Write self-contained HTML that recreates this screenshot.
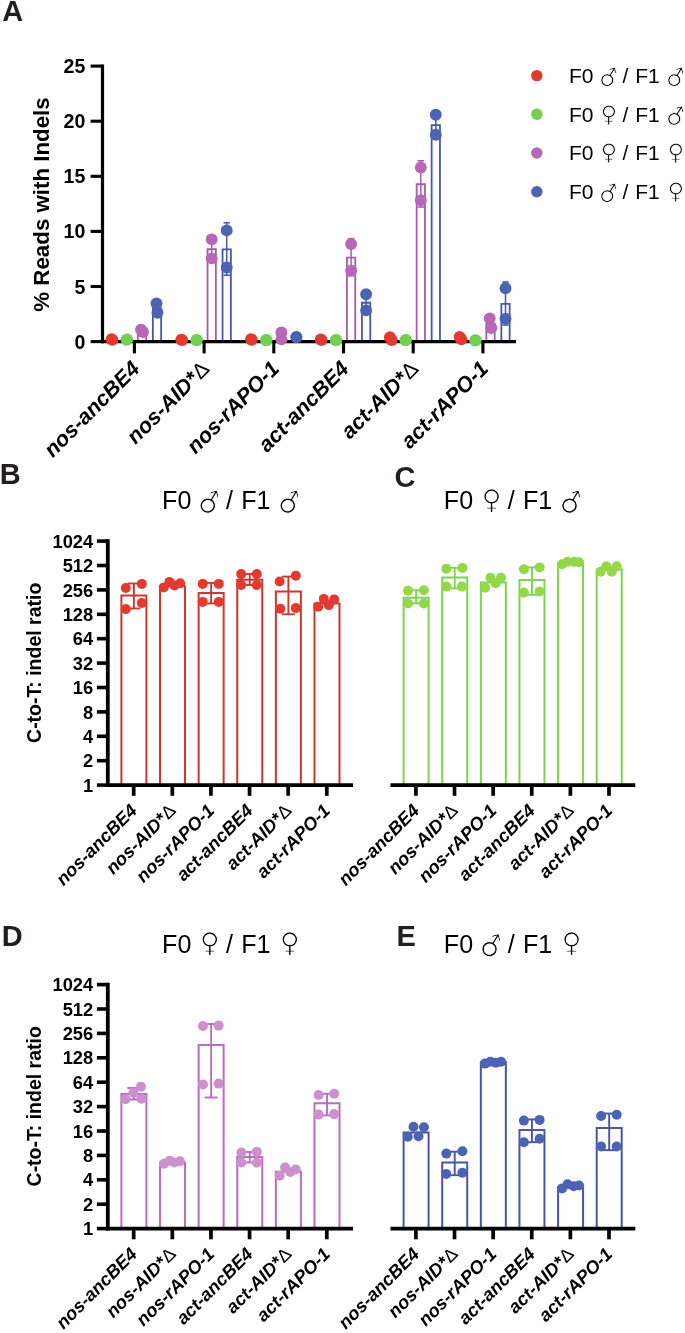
<!DOCTYPE html>
<html lang="en"><head><meta charset="utf-8"><title>Figure</title>
<style>
html,body{margin:0;padding:0;background:#fff;}
svg{display:block;font-family:"Liberation Sans", Arial, Helvetica, sans-serif;}

</style></head><body>
<svg width="685" height="1333" viewBox="0 0 685 1333">
<rect width="685" height="1333" fill="#fff"/>
<text x="2.30" y="20.80" font-size="29.0" font-weight="bold" font-style="normal" text-anchor="start" fill="#231F20">A</text>
<text x="-0.30" y="484.10" font-size="29.0" font-weight="bold" font-style="normal" text-anchor="start" fill="#231F20">B</text>
<text x="394.40" y="487.10" font-size="29.0" font-weight="bold" font-style="normal" text-anchor="start" fill="#231F20">C</text>
<text x="1.80" y="946.20" font-size="29.0" font-weight="bold" font-style="normal" text-anchor="start" fill="#231F20">D</text>
<text x="396.40" y="945.90" font-size="29.0" font-weight="bold" font-style="normal" text-anchor="start" fill="#231F20">E</text>
<path d="M137.85 341.60V331.20H146.15V341.60" fill="none" stroke="#A85AA8" stroke-width="1.8"/>
<line x1="142.00" y1="329.09" x2="142.00" y2="332.51" stroke="#A85AA8" stroke-width="1.5" stroke-linecap="butt"/>
<line x1="138.80" y1="329.09" x2="145.20" y2="329.09" stroke="#A85AA8" stroke-width="1.5" stroke-linecap="butt"/>
<line x1="138.80" y1="332.51" x2="145.20" y2="332.51" stroke="#A85AA8" stroke-width="1.5" stroke-linecap="butt"/>
<path d="M207.55 341.60V249.27H215.85V341.60" fill="none" stroke="#A85AA8" stroke-width="1.8"/>
<line x1="211.70" y1="235.39" x2="211.70" y2="262.35" stroke="#A85AA8" stroke-width="1.5" stroke-linecap="butt"/>
<line x1="208.50" y1="235.39" x2="214.90" y2="235.39" stroke="#A85AA8" stroke-width="1.5" stroke-linecap="butt"/>
<line x1="208.50" y1="262.35" x2="214.90" y2="262.35" stroke="#A85AA8" stroke-width="1.5" stroke-linecap="butt"/>
<path d="M346.95 341.60V257.64H355.25V341.60" fill="none" stroke="#A85AA8" stroke-width="1.8"/>
<line x1="351.10" y1="238.62" x2="351.10" y2="275.87" stroke="#A85AA8" stroke-width="1.5" stroke-linecap="butt"/>
<line x1="347.90" y1="238.62" x2="354.30" y2="238.62" stroke="#A85AA8" stroke-width="1.5" stroke-linecap="butt"/>
<line x1="347.90" y1="275.87" x2="354.30" y2="275.87" stroke="#A85AA8" stroke-width="1.5" stroke-linecap="butt"/>
<path d="M416.65 341.60V184.25H424.95V341.60" fill="none" stroke="#A85AA8" stroke-width="1.8"/>
<line x1="420.80" y1="160.71" x2="420.80" y2="206.99" stroke="#A85AA8" stroke-width="1.5" stroke-linecap="butt"/>
<line x1="417.60" y1="160.71" x2="424.00" y2="160.71" stroke="#A85AA8" stroke-width="1.5" stroke-linecap="butt"/>
<line x1="417.60" y1="206.99" x2="424.00" y2="206.99" stroke="#A85AA8" stroke-width="1.5" stroke-linecap="butt"/>
<path d="M486.35 341.60V323.60H494.65V341.60" fill="none" stroke="#A85AA8" stroke-width="1.8"/>
<line x1="490.50" y1="316.34" x2="490.50" y2="330.05" stroke="#A85AA8" stroke-width="1.5" stroke-linecap="butt"/>
<line x1="487.30" y1="316.34" x2="493.70" y2="316.34" stroke="#A85AA8" stroke-width="1.5" stroke-linecap="butt"/>
<line x1="487.30" y1="330.05" x2="493.70" y2="330.05" stroke="#A85AA8" stroke-width="1.5" stroke-linecap="butt"/>
<path d="M152.85 341.60V308.44H161.15V341.60" fill="none" stroke="#4358A8" stroke-width="1.8"/>
<line x1="157.00" y1="301.42" x2="157.00" y2="314.67" stroke="#4358A8" stroke-width="1.5" stroke-linecap="butt"/>
<line x1="153.80" y1="301.42" x2="160.20" y2="301.42" stroke="#4358A8" stroke-width="1.5" stroke-linecap="butt"/>
<line x1="153.80" y1="314.67" x2="160.20" y2="314.67" stroke="#4358A8" stroke-width="1.5" stroke-linecap="butt"/>
<path d="M222.55 341.60V249.38H230.85V341.60" fill="none" stroke="#4358A8" stroke-width="1.8"/>
<line x1="226.70" y1="222.72" x2="226.70" y2="275.24" stroke="#4358A8" stroke-width="1.5" stroke-linecap="butt"/>
<line x1="223.50" y1="222.72" x2="229.90" y2="222.72" stroke="#4358A8" stroke-width="1.5" stroke-linecap="butt"/>
<line x1="223.50" y1="275.24" x2="229.90" y2="275.24" stroke="#4358A8" stroke-width="1.5" stroke-linecap="butt"/>
<path d="M361.95 341.60V302.77H370.25V341.60" fill="none" stroke="#4358A8" stroke-width="1.8"/>
<line x1="366.10" y1="290.99" x2="366.10" y2="313.75" stroke="#4358A8" stroke-width="1.5" stroke-linecap="butt"/>
<line x1="362.90" y1="290.99" x2="369.30" y2="290.99" stroke="#4358A8" stroke-width="1.5" stroke-linecap="butt"/>
<line x1="362.90" y1="313.75" x2="369.30" y2="313.75" stroke="#4358A8" stroke-width="1.5" stroke-linecap="butt"/>
<path d="M431.65 341.60V125.18H439.95V341.60" fill="none" stroke="#4358A8" stroke-width="1.8"/>
<line x1="435.80" y1="110.68" x2="435.80" y2="138.89" stroke="#4358A8" stroke-width="1.5" stroke-linecap="butt"/>
<line x1="432.60" y1="110.68" x2="439.00" y2="110.68" stroke="#4358A8" stroke-width="1.5" stroke-linecap="butt"/>
<line x1="432.60" y1="138.89" x2="439.00" y2="138.89" stroke="#4358A8" stroke-width="1.5" stroke-linecap="butt"/>
<path d="M501.35 341.60V303.93H509.65V341.60" fill="none" stroke="#4358A8" stroke-width="1.8"/>
<line x1="505.50" y1="281.94" x2="505.50" y2="325.11" stroke="#4358A8" stroke-width="1.5" stroke-linecap="butt"/>
<line x1="502.30" y1="281.94" x2="508.70" y2="281.94" stroke="#4358A8" stroke-width="1.5" stroke-linecap="butt"/>
<line x1="502.30" y1="325.11" x2="508.70" y2="325.11" stroke="#4358A8" stroke-width="1.5" stroke-linecap="butt"/>
<line x1="102.50" y1="64.40" x2="102.50" y2="343.20" stroke="#000" stroke-width="3.2" stroke-linecap="butt"/>
<line x1="100.90" y1="341.60" x2="516.10" y2="341.60" stroke="#000" stroke-width="3.3" stroke-linecap="butt"/>
<line x1="90.60" y1="341.60" x2="102.50" y2="341.60" stroke="#000" stroke-width="3.1" stroke-linecap="butt"/>
<text x="85.30" y="348.60" font-size="19.5" font-weight="bold" font-style="normal" text-anchor="end">0</text>
<line x1="90.60" y1="286.50" x2="102.50" y2="286.50" stroke="#000" stroke-width="3.1" stroke-linecap="butt"/>
<text x="85.30" y="293.50" font-size="19.5" font-weight="bold" font-style="normal" text-anchor="end">5</text>
<line x1="90.60" y1="231.40" x2="102.50" y2="231.40" stroke="#000" stroke-width="3.1" stroke-linecap="butt"/>
<text x="85.30" y="238.40" font-size="19.5" font-weight="bold" font-style="normal" text-anchor="end">10</text>
<line x1="90.60" y1="176.30" x2="102.50" y2="176.30" stroke="#000" stroke-width="3.1" stroke-linecap="butt"/>
<text x="85.30" y="183.30" font-size="19.5" font-weight="bold" font-style="normal" text-anchor="end">15</text>
<line x1="90.60" y1="121.20" x2="102.50" y2="121.20" stroke="#000" stroke-width="3.1" stroke-linecap="butt"/>
<text x="85.30" y="128.20" font-size="19.5" font-weight="bold" font-style="normal" text-anchor="end">20</text>
<line x1="90.60" y1="66.10" x2="102.50" y2="66.10" stroke="#000" stroke-width="3.1" stroke-linecap="butt"/>
<text x="85.30" y="73.10" font-size="19.5" font-weight="bold" font-style="normal" text-anchor="end">25</text>
<line x1="134.40" y1="341.60" x2="134.40" y2="353.40" stroke="#000" stroke-width="3.1" stroke-linecap="butt"/>
<line x1="204.10" y1="341.60" x2="204.10" y2="353.40" stroke="#000" stroke-width="3.1" stroke-linecap="butt"/>
<line x1="273.80" y1="341.60" x2="273.80" y2="353.40" stroke="#000" stroke-width="3.1" stroke-linecap="butt"/>
<line x1="343.50" y1="341.60" x2="343.50" y2="353.40" stroke="#000" stroke-width="3.1" stroke-linecap="butt"/>
<line x1="413.20" y1="341.60" x2="413.20" y2="353.40" stroke="#000" stroke-width="3.1" stroke-linecap="butt"/>
<line x1="482.90" y1="341.60" x2="482.90" y2="353.40" stroke="#000" stroke-width="3.1" stroke-linecap="butt"/>
<text x="48.90" y="204.50" font-size="22.3" font-weight="bold" font-style="normal" text-anchor="middle" transform="rotate(-90 48.90 204.50)">% Reads with Indels</text>
<text x="141.00" y="370.00" font-size="21.6" font-weight="bold" font-style="italic" text-anchor="end" transform="rotate(-45 141.00 370.00)">nos-ancBE4</text>
<text x="210.70" y="370.00" font-size="21.6" font-weight="bold" font-style="italic" text-anchor="end" transform="rotate(-45 210.70 370.00)">nos-AID*<tspan font-style="normal" font-weight="normal" font-size="21.6" dx="0.6">Δ</tspan></text>
<text x="280.40" y="370.00" font-size="21.6" font-weight="bold" font-style="italic" text-anchor="end" transform="rotate(-45 280.40 370.00)">nos-rAPO-1</text>
<text x="350.10" y="370.00" font-size="21.6" font-weight="bold" font-style="italic" text-anchor="end" transform="rotate(-45 350.10 370.00)">act-ancBE4</text>
<text x="419.80" y="370.00" font-size="21.6" font-weight="bold" font-style="italic" text-anchor="end" transform="rotate(-45 419.80 370.00)">act-AID*<tspan font-style="normal" font-weight="normal" font-size="21.6" dx="0.6">Δ</tspan></text>
<text x="489.50" y="370.00" font-size="21.6" font-weight="bold" font-style="italic" text-anchor="end" transform="rotate(-45 489.50 370.00)">act-rAPO-1</text>
<circle cx="111.60" cy="339.18" r="5.95" fill="#E23A2E"/>
<circle cx="112.40" cy="339.84" r="5.95" fill="#E23A2E"/>
<circle cx="181.30" cy="339.62" r="5.95" fill="#E23A2E"/>
<circle cx="182.10" cy="340.06" r="5.95" fill="#E23A2E"/>
<circle cx="251.00" cy="339.18" r="5.95" fill="#E23A2E"/>
<circle cx="251.80" cy="339.84" r="5.95" fill="#E23A2E"/>
<circle cx="320.70" cy="339.40" r="5.95" fill="#E23A2E"/>
<circle cx="321.50" cy="339.95" r="5.95" fill="#E23A2E"/>
<circle cx="389.90" cy="337.19" r="5.95" fill="#E23A2E"/>
<circle cx="391.70" cy="339.95" r="5.95" fill="#E23A2E"/>
<circle cx="459.60" cy="336.97" r="5.95" fill="#E23A2E"/>
<circle cx="461.40" cy="339.40" r="5.95" fill="#E23A2E"/>
<circle cx="126.60" cy="339.73" r="5.95" fill="#72D04E"/>
<circle cx="127.20" cy="339.40" r="5.95" fill="#72D04E"/>
<circle cx="196.30" cy="340.28" r="5.95" fill="#72D04E"/>
<circle cx="196.90" cy="339.95" r="5.95" fill="#72D04E"/>
<circle cx="266.00" cy="340.17" r="5.95" fill="#72D04E"/>
<circle cx="266.60" cy="339.95" r="5.95" fill="#72D04E"/>
<circle cx="335.70" cy="340.28" r="5.95" fill="#72D04E"/>
<circle cx="336.30" cy="339.95" r="5.95" fill="#72D04E"/>
<circle cx="405.40" cy="340.28" r="5.95" fill="#72D04E"/>
<circle cx="406.00" cy="340.06" r="5.95" fill="#72D04E"/>
<circle cx="475.10" cy="340.50" r="5.95" fill="#72D04E"/>
<circle cx="475.70" cy="340.17" r="5.95" fill="#72D04E"/>
<circle cx="141.00" cy="329.59" r="5.95" fill="#B866B8"/>
<circle cx="143.00" cy="332.01" r="5.95" fill="#B866B8"/>
<circle cx="211.70" cy="239.33" r="5.95" fill="#B866B8"/>
<circle cx="211.70" cy="258.40" r="5.95" fill="#B866B8"/>
<circle cx="281.40" cy="332.45" r="5.95" fill="#B866B8"/>
<circle cx="281.40" cy="339.40" r="5.95" fill="#B866B8"/>
<circle cx="351.10" cy="244.07" r="5.95" fill="#B866B8"/>
<circle cx="351.10" cy="270.41" r="5.95" fill="#B866B8"/>
<circle cx="420.80" cy="167.48" r="5.95" fill="#B866B8"/>
<circle cx="420.80" cy="200.21" r="5.95" fill="#B866B8"/>
<circle cx="489.70" cy="318.35" r="5.95" fill="#B866B8"/>
<circle cx="491.30" cy="328.05" r="5.95" fill="#B866B8"/>
<circle cx="156.50" cy="303.36" r="5.95" fill="#4D62B0"/>
<circle cx="157.50" cy="312.73" r="5.95" fill="#4D62B0"/>
<circle cx="226.70" cy="230.41" r="5.95" fill="#4D62B0"/>
<circle cx="226.70" cy="267.55" r="5.95" fill="#4D62B0"/>
<circle cx="296.40" cy="336.97" r="5.95" fill="#4D62B0"/>
<circle cx="296.40" cy="337.19" r="5.95" fill="#4D62B0"/>
<circle cx="366.10" cy="294.32" r="5.95" fill="#4D62B0"/>
<circle cx="366.10" cy="310.41" r="5.95" fill="#4D62B0"/>
<circle cx="435.80" cy="114.81" r="5.95" fill="#4D62B0"/>
<circle cx="435.80" cy="134.75" r="5.95" fill="#4D62B0"/>
<circle cx="505.50" cy="288.26" r="5.95" fill="#4D62B0"/>
<circle cx="505.50" cy="318.79" r="5.95" fill="#4D62B0"/>
<circle cx="536.80" cy="75.60" r="5.7" fill="#E23A2E"/>
<text font-size="21" font-weight="normal"><tspan x="569.00" y="83.00">F0</tspan> <tspan x="600.72" y="87.94" font-family='"DejaVu Sans", sans-serif' font-size="23.00" stroke="#fff" stroke-width="0.80" paint-order="fill stroke" rotate="-14.5">♂</tspan> <tspan x="622.50" y="83.00">/</tspan> <tspan x="635.30" y="83.00">F1</tspan> <tspan x="667.72" y="87.94" font-family='"DejaVu Sans", sans-serif' font-size="23.00" stroke="#fff" stroke-width="0.80" paint-order="fill stroke" rotate="-14.5">♂</tspan></text>
<circle cx="536.80" cy="114.30" r="5.7" fill="#72D04E"/>
<text font-size="21" font-weight="normal"><tspan x="569.00" y="121.70">F0</tspan> <tspan x="600.52" y="121.58" font-family='"DejaVu Sans", sans-serif' font-size="23.00" stroke="#fff" stroke-width="0.80" paint-order="fill stroke">♀</tspan> <tspan x="622.50" y="121.70">/</tspan> <tspan x="635.30" y="121.70">F1</tspan> <tspan x="667.72" y="126.64" font-family='"DejaVu Sans", sans-serif' font-size="23.00" stroke="#fff" stroke-width="0.80" paint-order="fill stroke" rotate="-14.5">♂</tspan></text>
<circle cx="536.80" cy="153.00" r="5.7" fill="#B866B8"/>
<text font-size="21" font-weight="normal"><tspan x="569.00" y="160.40">F0</tspan> <tspan x="600.52" y="160.28" font-family='"DejaVu Sans", sans-serif' font-size="23.00" stroke="#fff" stroke-width="0.80" paint-order="fill stroke">♀</tspan> <tspan x="622.50" y="160.40">/</tspan> <tspan x="635.30" y="160.40">F1</tspan> <tspan x="667.52" y="160.28" font-family='"DejaVu Sans", sans-serif' font-size="23.00" stroke="#fff" stroke-width="0.80" paint-order="fill stroke">♀</tspan></text>
<circle cx="536.80" cy="191.70" r="5.7" fill="#4D62B0"/>
<text font-size="21" font-weight="normal"><tspan x="569.00" y="199.10">F0</tspan> <tspan x="600.72" y="204.04" font-family='"DejaVu Sans", sans-serif' font-size="23.00" stroke="#fff" stroke-width="0.80" paint-order="fill stroke" rotate="-14.5">♂</tspan> <tspan x="622.50" y="199.10">/</tspan> <tspan x="635.30" y="199.10">F1</tspan> <tspan x="667.52" y="198.98" font-family='"DejaVu Sans", sans-serif' font-size="23.00" stroke="#fff" stroke-width="0.80" paint-order="fill stroke">♀</tspan></text>
<path d="M121.40 785.10V595.60H146.40V785.10" fill="none" stroke="#CC372E" stroke-width="2.0"/>
<line x1="133.90" y1="583.50" x2="133.90" y2="608.50" stroke="#CC372E" stroke-width="1.9" stroke-linecap="butt"/>
<line x1="127.40" y1="583.50" x2="140.40" y2="583.50" stroke="#CC372E" stroke-width="1.9" stroke-linecap="butt"/>
<line x1="127.40" y1="608.50" x2="140.40" y2="608.50" stroke="#CC372E" stroke-width="1.9" stroke-linecap="butt"/>
<path d="M160.02 785.10V586.20H185.02V785.10" fill="none" stroke="#CC372E" stroke-width="2.0"/>
<path d="M198.64 785.10V592.90H223.64V785.10" fill="none" stroke="#CC372E" stroke-width="2.0"/>
<line x1="211.14" y1="582.90" x2="211.14" y2="603.40" stroke="#CC372E" stroke-width="1.9" stroke-linecap="butt"/>
<line x1="204.64" y1="582.90" x2="217.64" y2="582.90" stroke="#CC372E" stroke-width="1.9" stroke-linecap="butt"/>
<line x1="204.64" y1="603.40" x2="217.64" y2="603.40" stroke="#CC372E" stroke-width="1.9" stroke-linecap="butt"/>
<path d="M237.26 785.10V579.80H262.26V785.10" fill="none" stroke="#CC372E" stroke-width="2.0"/>
<line x1="249.76" y1="574.00" x2="249.76" y2="585.00" stroke="#CC372E" stroke-width="1.9" stroke-linecap="butt"/>
<line x1="243.26" y1="574.00" x2="256.26" y2="574.00" stroke="#CC372E" stroke-width="1.9" stroke-linecap="butt"/>
<line x1="243.26" y1="585.00" x2="256.26" y2="585.00" stroke="#CC372E" stroke-width="1.9" stroke-linecap="butt"/>
<path d="M275.88 785.10V591.50H300.88V785.10" fill="none" stroke="#CC372E" stroke-width="2.0"/>
<line x1="288.38" y1="576.60" x2="288.38" y2="614.30" stroke="#CC372E" stroke-width="1.9" stroke-linecap="butt"/>
<line x1="281.88" y1="576.60" x2="294.88" y2="576.60" stroke="#CC372E" stroke-width="1.9" stroke-linecap="butt"/>
<line x1="281.88" y1="614.30" x2="294.88" y2="614.30" stroke="#CC372E" stroke-width="1.9" stroke-linecap="butt"/>
<path d="M314.50 785.10V603.40H339.50V785.10" fill="none" stroke="#CC372E" stroke-width="2.0"/>
<line x1="107.80" y1="539.30" x2="107.80" y2="787.00" stroke="#000" stroke-width="3.8" stroke-linecap="butt"/>
<line x1="96.90" y1="785.10" x2="107.80" y2="785.10" stroke="#000" stroke-width="3.6" stroke-linecap="butt"/>
<text x="93.20" y="791.70" font-size="18.3" font-weight="bold" font-style="normal" text-anchor="end">1</text>
<line x1="96.90" y1="760.70" x2="107.80" y2="760.70" stroke="#000" stroke-width="3.6" stroke-linecap="butt"/>
<text x="93.20" y="767.30" font-size="18.3" font-weight="bold" font-style="normal" text-anchor="end">2</text>
<line x1="96.90" y1="736.30" x2="107.80" y2="736.30" stroke="#000" stroke-width="3.6" stroke-linecap="butt"/>
<text x="93.20" y="742.90" font-size="18.3" font-weight="bold" font-style="normal" text-anchor="end">4</text>
<line x1="96.90" y1="711.90" x2="107.80" y2="711.90" stroke="#000" stroke-width="3.6" stroke-linecap="butt"/>
<text x="93.20" y="718.50" font-size="18.3" font-weight="bold" font-style="normal" text-anchor="end">8</text>
<line x1="96.90" y1="687.50" x2="107.80" y2="687.50" stroke="#000" stroke-width="3.6" stroke-linecap="butt"/>
<text x="93.20" y="694.10" font-size="18.3" font-weight="bold" font-style="normal" text-anchor="end">16</text>
<line x1="96.90" y1="663.10" x2="107.80" y2="663.10" stroke="#000" stroke-width="3.6" stroke-linecap="butt"/>
<text x="93.20" y="669.70" font-size="18.3" font-weight="bold" font-style="normal" text-anchor="end">32</text>
<line x1="96.90" y1="638.70" x2="107.80" y2="638.70" stroke="#000" stroke-width="3.6" stroke-linecap="butt"/>
<text x="93.20" y="645.30" font-size="18.3" font-weight="bold" font-style="normal" text-anchor="end">64</text>
<line x1="96.90" y1="614.30" x2="107.80" y2="614.30" stroke="#000" stroke-width="3.6" stroke-linecap="butt"/>
<text x="93.20" y="620.90" font-size="18.3" font-weight="bold" font-style="normal" text-anchor="end">128</text>
<line x1="96.90" y1="589.90" x2="107.80" y2="589.90" stroke="#000" stroke-width="3.6" stroke-linecap="butt"/>
<text x="93.20" y="596.50" font-size="18.3" font-weight="bold" font-style="normal" text-anchor="end">256</text>
<line x1="96.90" y1="565.50" x2="107.80" y2="565.50" stroke="#000" stroke-width="3.6" stroke-linecap="butt"/>
<text x="93.20" y="572.10" font-size="18.3" font-weight="bold" font-style="normal" text-anchor="end">512</text>
<line x1="96.90" y1="541.10" x2="107.80" y2="541.10" stroke="#000" stroke-width="3.6" stroke-linecap="butt"/>
<text x="93.20" y="547.70" font-size="18.3" font-weight="bold" font-style="normal" text-anchor="end">1024</text>
<text x="41.20" y="662.80" font-size="19.5" font-weight="bold" font-style="normal" text-anchor="middle" transform="rotate(-90 41.20 662.80)">C-to-T: indel ratio</text>
<line x1="105.90" y1="785.10" x2="353.10" y2="785.10" stroke="#000" stroke-width="3.8" stroke-linecap="butt"/>
<line x1="133.70" y1="785.10" x2="133.70" y2="795.80" stroke="#000" stroke-width="3.7" stroke-linecap="butt"/>
<text x="138.20" y="811.70" font-size="18.3" font-weight="bold" font-style="italic" text-anchor="end" transform="rotate(-45 138.20 811.70)">nos-ancBE4</text>
<line x1="172.32" y1="785.10" x2="172.32" y2="795.80" stroke="#000" stroke-width="3.7" stroke-linecap="butt"/>
<text x="176.82" y="811.70" font-size="18.3" font-weight="bold" font-style="italic" text-anchor="end" transform="rotate(-45 176.82 811.70)">nos-AID*<tspan font-style="normal" font-weight="normal" font-size="18.3" dx="0.6">Δ</tspan></text>
<line x1="210.94" y1="785.10" x2="210.94" y2="795.80" stroke="#000" stroke-width="3.7" stroke-linecap="butt"/>
<text x="215.44" y="811.70" font-size="18.3" font-weight="bold" font-style="italic" text-anchor="end" transform="rotate(-45 215.44 811.70)">nos-rAPO-1</text>
<line x1="249.56" y1="785.10" x2="249.56" y2="795.80" stroke="#000" stroke-width="3.7" stroke-linecap="butt"/>
<text x="254.06" y="811.70" font-size="18.3" font-weight="bold" font-style="italic" text-anchor="end" transform="rotate(-45 254.06 811.70)">act-ancBE4</text>
<line x1="288.18" y1="785.10" x2="288.18" y2="795.80" stroke="#000" stroke-width="3.7" stroke-linecap="butt"/>
<text x="292.68" y="811.70" font-size="18.3" font-weight="bold" font-style="italic" text-anchor="end" transform="rotate(-45 292.68 811.70)">act-AID*<tspan font-style="normal" font-weight="normal" font-size="18.3" dx="0.6">Δ</tspan></text>
<line x1="326.80" y1="785.10" x2="326.80" y2="795.80" stroke="#000" stroke-width="3.7" stroke-linecap="butt"/>
<text x="331.30" y="811.70" font-size="18.3" font-weight="bold" font-style="italic" text-anchor="end" transform="rotate(-45 331.30 811.70)">act-rAPO-1</text>
<circle cx="125.80" cy="588.00" r="5.0" fill="#E23A2E"/>
<circle cx="141.80" cy="583.90" r="5.0" fill="#E23A2E"/>
<circle cx="125.80" cy="609.10" r="5.0" fill="#E23A2E"/>
<circle cx="141.80" cy="603.00" r="5.0" fill="#E23A2E"/>
<circle cx="163.70" cy="587.40" r="5.0" fill="#E23A2E"/>
<circle cx="169.40" cy="581.90" r="5.0" fill="#E23A2E"/>
<circle cx="174.50" cy="585.40" r="5.0" fill="#E23A2E"/>
<circle cx="180.20" cy="583.30" r="5.0" fill="#E23A2E"/>
<circle cx="202.70" cy="583.90" r="5.0" fill="#E23A2E"/>
<circle cx="218.80" cy="583.90" r="5.0" fill="#E23A2E"/>
<circle cx="202.70" cy="601.90" r="5.0" fill="#E23A2E"/>
<circle cx="218.80" cy="601.90" r="5.0" fill="#E23A2E"/>
<circle cx="241.20" cy="574.10" r="5.0" fill="#E23A2E"/>
<circle cx="256.80" cy="574.10" r="5.0" fill="#E23A2E"/>
<circle cx="241.20" cy="585.00" r="5.0" fill="#E23A2E"/>
<circle cx="256.80" cy="585.00" r="5.0" fill="#E23A2E"/>
<circle cx="295.80" cy="575.80" r="5.0" fill="#E23A2E"/>
<circle cx="279.60" cy="581.50" r="5.0" fill="#E23A2E"/>
<circle cx="280.40" cy="608.80" r="5.0" fill="#E23A2E"/>
<circle cx="295.80" cy="608.10" r="5.0" fill="#E23A2E"/>
<circle cx="323.80" cy="598.90" r="5.0" fill="#E23A2E"/>
<circle cx="334.20" cy="599.40" r="5.0" fill="#E23A2E"/>
<circle cx="318.10" cy="606.80" r="5.0" fill="#E23A2E"/>
<circle cx="328.80" cy="605.10" r="5.0" fill="#E23A2E"/>
<text font-size="25.1" font-weight="normal"><tspan x="162.05" y="509.10">F0</tspan> <tspan x="199.97" y="515.01" font-family='"DejaVu Sans", sans-serif' font-size="27.49" stroke="#fff" stroke-width="0.96" paint-order="fill stroke" rotate="-14.5">♂</tspan> <tspan x="226.00" y="509.10">/</tspan> <tspan x="241.29" y="509.10">F1</tspan> <tspan x="280.05" y="515.01" font-family='"DejaVu Sans", sans-serif' font-size="27.49" stroke="#fff" stroke-width="0.96" paint-order="fill stroke" rotate="-14.5">♂</tspan></text>
<path d="M403.60 785.10V597.80H428.60V785.10" fill="none" stroke="#7DD450" stroke-width="2.0"/>
<line x1="416.10" y1="590.30" x2="416.10" y2="603.40" stroke="#7DD450" stroke-width="1.9" stroke-linecap="butt"/>
<line x1="409.60" y1="590.30" x2="422.60" y2="590.30" stroke="#7DD450" stroke-width="1.9" stroke-linecap="butt"/>
<line x1="409.60" y1="603.40" x2="422.60" y2="603.40" stroke="#7DD450" stroke-width="1.9" stroke-linecap="butt"/>
<path d="M442.22 785.10V577.40H467.22V785.10" fill="none" stroke="#7DD450" stroke-width="2.0"/>
<line x1="454.72" y1="567.80" x2="454.72" y2="588.40" stroke="#7DD450" stroke-width="1.9" stroke-linecap="butt"/>
<line x1="448.22" y1="567.80" x2="461.22" y2="567.80" stroke="#7DD450" stroke-width="1.9" stroke-linecap="butt"/>
<line x1="448.22" y1="588.40" x2="461.22" y2="588.40" stroke="#7DD450" stroke-width="1.9" stroke-linecap="butt"/>
<path d="M480.84 785.10V582.40H505.84V785.10" fill="none" stroke="#7DD450" stroke-width="2.0"/>
<path d="M519.46 785.10V579.90H544.46V785.10" fill="none" stroke="#7DD450" stroke-width="2.0"/>
<line x1="531.96" y1="567.40" x2="531.96" y2="594.80" stroke="#7DD450" stroke-width="1.9" stroke-linecap="butt"/>
<line x1="525.46" y1="567.40" x2="538.46" y2="567.40" stroke="#7DD450" stroke-width="1.9" stroke-linecap="butt"/>
<line x1="525.46" y1="594.80" x2="538.46" y2="594.80" stroke="#7DD450" stroke-width="1.9" stroke-linecap="butt"/>
<path d="M558.08 785.10V563.80H583.08V785.10" fill="none" stroke="#7DD450" stroke-width="2.0"/>
<path d="M596.70 785.10V569.50H621.70V785.10" fill="none" stroke="#7DD450" stroke-width="2.0"/>
<line x1="390.50" y1="785.10" x2="635.30" y2="785.10" stroke="#000" stroke-width="3.8" stroke-linecap="butt"/>
<line x1="415.90" y1="785.10" x2="415.90" y2="795.80" stroke="#000" stroke-width="3.7" stroke-linecap="butt"/>
<text x="420.40" y="811.70" font-size="18.3" font-weight="bold" font-style="italic" text-anchor="end" transform="rotate(-45 420.40 811.70)">nos-ancBE4</text>
<line x1="454.52" y1="785.10" x2="454.52" y2="795.80" stroke="#000" stroke-width="3.7" stroke-linecap="butt"/>
<text x="459.02" y="811.70" font-size="18.3" font-weight="bold" font-style="italic" text-anchor="end" transform="rotate(-45 459.02 811.70)">nos-AID*<tspan font-style="normal" font-weight="normal" font-size="18.3" dx="0.6">Δ</tspan></text>
<line x1="493.14" y1="785.10" x2="493.14" y2="795.80" stroke="#000" stroke-width="3.7" stroke-linecap="butt"/>
<text x="497.64" y="811.70" font-size="18.3" font-weight="bold" font-style="italic" text-anchor="end" transform="rotate(-45 497.64 811.70)">nos-rAPO-1</text>
<line x1="531.76" y1="785.10" x2="531.76" y2="795.80" stroke="#000" stroke-width="3.7" stroke-linecap="butt"/>
<text x="536.26" y="811.70" font-size="18.3" font-weight="bold" font-style="italic" text-anchor="end" transform="rotate(-45 536.26 811.70)">act-ancBE4</text>
<line x1="570.38" y1="785.10" x2="570.38" y2="795.80" stroke="#000" stroke-width="3.7" stroke-linecap="butt"/>
<text x="574.88" y="811.70" font-size="18.3" font-weight="bold" font-style="italic" text-anchor="end" transform="rotate(-45 574.88 811.70)">act-AID*<tspan font-style="normal" font-weight="normal" font-size="18.3" dx="0.6">Δ</tspan></text>
<line x1="609.00" y1="785.10" x2="609.00" y2="795.80" stroke="#000" stroke-width="3.7" stroke-linecap="butt"/>
<text x="613.50" y="811.70" font-size="18.3" font-weight="bold" font-style="italic" text-anchor="end" transform="rotate(-45 613.50 811.70)">act-rAPO-1</text>
<circle cx="408.00" cy="590.80" r="5.0" fill="#94D848"/>
<circle cx="423.90" cy="590.30" r="5.0" fill="#94D848"/>
<circle cx="408.00" cy="603.40" r="5.0" fill="#94D848"/>
<circle cx="423.90" cy="603.40" r="5.0" fill="#94D848"/>
<circle cx="446.30" cy="568.70" r="5.0" fill="#94D848"/>
<circle cx="462.40" cy="567.90" r="5.0" fill="#94D848"/>
<circle cx="446.30" cy="586.60" r="5.0" fill="#94D848"/>
<circle cx="461.90" cy="586.60" r="5.0" fill="#94D848"/>
<circle cx="490.40" cy="577.70" r="5.0" fill="#94D848"/>
<circle cx="501.00" cy="577.70" r="5.0" fill="#94D848"/>
<circle cx="485.20" cy="587.70" r="5.0" fill="#94D848"/>
<circle cx="495.70" cy="583.30" r="5.0" fill="#94D848"/>
<circle cx="523.90" cy="569.20" r="5.0" fill="#94D848"/>
<circle cx="539.60" cy="567.40" r="5.0" fill="#94D848"/>
<circle cx="523.90" cy="592.60" r="5.0" fill="#94D848"/>
<circle cx="539.60" cy="591.50" r="5.0" fill="#94D848"/>
<circle cx="562.10" cy="564.20" r="5.0" fill="#94D848"/>
<circle cx="567.60" cy="561.70" r="5.0" fill="#94D848"/>
<circle cx="574.10" cy="561.70" r="5.0" fill="#94D848"/>
<circle cx="579.00" cy="562.20" r="5.0" fill="#94D848"/>
<circle cx="600.60" cy="571.70" r="5.0" fill="#94D848"/>
<circle cx="606.30" cy="566.20" r="5.0" fill="#94D848"/>
<circle cx="611.80" cy="571.70" r="5.0" fill="#94D848"/>
<circle cx="616.70" cy="566.20" r="5.0" fill="#94D848"/>
<text font-size="25.1" font-weight="normal"><tspan x="443.80" y="509.10">F0</tspan> <tspan x="481.47" y="508.96" font-family='"DejaVu Sans", sans-serif' font-size="27.49" stroke="#fff" stroke-width="0.96" paint-order="fill stroke">♀</tspan> <tspan x="507.75" y="509.10">/</tspan> <tspan x="523.04" y="509.10">F1</tspan> <tspan x="561.80" y="515.01" font-family='"DejaVu Sans", sans-serif' font-size="27.49" stroke="#fff" stroke-width="0.96" paint-order="fill stroke" rotate="-14.5">♂</tspan></text>
<path d="M121.40 1228.60V1094.10H146.40V1228.60" fill="none" stroke="#B96DC0" stroke-width="2.0"/>
<line x1="133.90" y1="1088.00" x2="133.90" y2="1099.50" stroke="#B96DC0" stroke-width="1.9" stroke-linecap="butt"/>
<line x1="127.40" y1="1088.00" x2="140.40" y2="1088.00" stroke="#B96DC0" stroke-width="1.9" stroke-linecap="butt"/>
<line x1="127.40" y1="1099.50" x2="140.40" y2="1099.50" stroke="#B96DC0" stroke-width="1.9" stroke-linecap="butt"/>
<path d="M160.02 1228.60V1162.80H185.02V1228.60" fill="none" stroke="#B96DC0" stroke-width="2.0"/>
<path d="M198.64 1228.60V1045.00H223.64V1228.60" fill="none" stroke="#B96DC0" stroke-width="2.0"/>
<line x1="211.14" y1="1024.00" x2="211.14" y2="1097.50" stroke="#B96DC0" stroke-width="1.9" stroke-linecap="butt"/>
<line x1="204.64" y1="1024.00" x2="217.64" y2="1024.00" stroke="#B96DC0" stroke-width="1.9" stroke-linecap="butt"/>
<line x1="204.64" y1="1097.50" x2="217.64" y2="1097.50" stroke="#B96DC0" stroke-width="1.9" stroke-linecap="butt"/>
<path d="M237.26 1228.60V1157.10H262.26V1228.60" fill="none" stroke="#B96DC0" stroke-width="2.0"/>
<line x1="249.76" y1="1152.00" x2="249.76" y2="1162.50" stroke="#B96DC0" stroke-width="1.9" stroke-linecap="butt"/>
<line x1="243.26" y1="1152.00" x2="256.26" y2="1152.00" stroke="#B96DC0" stroke-width="1.9" stroke-linecap="butt"/>
<line x1="243.26" y1="1162.50" x2="256.26" y2="1162.50" stroke="#B96DC0" stroke-width="1.9" stroke-linecap="butt"/>
<path d="M275.88 1228.60V1171.80H300.88V1228.60" fill="none" stroke="#B96DC0" stroke-width="2.0"/>
<path d="M314.50 1228.60V1103.30H339.50V1228.60" fill="none" stroke="#B96DC0" stroke-width="2.0"/>
<line x1="327.00" y1="1093.80" x2="327.00" y2="1115.40" stroke="#B96DC0" stroke-width="1.9" stroke-linecap="butt"/>
<line x1="320.50" y1="1093.80" x2="333.50" y2="1093.80" stroke="#B96DC0" stroke-width="1.9" stroke-linecap="butt"/>
<line x1="320.50" y1="1115.40" x2="333.50" y2="1115.40" stroke="#B96DC0" stroke-width="1.9" stroke-linecap="butt"/>
<line x1="107.80" y1="982.80" x2="107.80" y2="1230.50" stroke="#000" stroke-width="3.8" stroke-linecap="butt"/>
<line x1="96.90" y1="1228.60" x2="107.80" y2="1228.60" stroke="#000" stroke-width="3.6" stroke-linecap="butt"/>
<text x="93.20" y="1235.20" font-size="18.3" font-weight="bold" font-style="normal" text-anchor="end">1</text>
<line x1="96.90" y1="1204.20" x2="107.80" y2="1204.20" stroke="#000" stroke-width="3.6" stroke-linecap="butt"/>
<text x="93.20" y="1210.80" font-size="18.3" font-weight="bold" font-style="normal" text-anchor="end">2</text>
<line x1="96.90" y1="1179.80" x2="107.80" y2="1179.80" stroke="#000" stroke-width="3.6" stroke-linecap="butt"/>
<text x="93.20" y="1186.40" font-size="18.3" font-weight="bold" font-style="normal" text-anchor="end">4</text>
<line x1="96.90" y1="1155.40" x2="107.80" y2="1155.40" stroke="#000" stroke-width="3.6" stroke-linecap="butt"/>
<text x="93.20" y="1162.00" font-size="18.3" font-weight="bold" font-style="normal" text-anchor="end">8</text>
<line x1="96.90" y1="1131.00" x2="107.80" y2="1131.00" stroke="#000" stroke-width="3.6" stroke-linecap="butt"/>
<text x="93.20" y="1137.60" font-size="18.3" font-weight="bold" font-style="normal" text-anchor="end">16</text>
<line x1="96.90" y1="1106.60" x2="107.80" y2="1106.60" stroke="#000" stroke-width="3.6" stroke-linecap="butt"/>
<text x="93.20" y="1113.20" font-size="18.3" font-weight="bold" font-style="normal" text-anchor="end">32</text>
<line x1="96.90" y1="1082.20" x2="107.80" y2="1082.20" stroke="#000" stroke-width="3.6" stroke-linecap="butt"/>
<text x="93.20" y="1088.80" font-size="18.3" font-weight="bold" font-style="normal" text-anchor="end">64</text>
<line x1="96.90" y1="1057.80" x2="107.80" y2="1057.80" stroke="#000" stroke-width="3.6" stroke-linecap="butt"/>
<text x="93.20" y="1064.40" font-size="18.3" font-weight="bold" font-style="normal" text-anchor="end">128</text>
<line x1="96.90" y1="1033.40" x2="107.80" y2="1033.40" stroke="#000" stroke-width="3.6" stroke-linecap="butt"/>
<text x="93.20" y="1040.00" font-size="18.3" font-weight="bold" font-style="normal" text-anchor="end">256</text>
<line x1="96.90" y1="1009.00" x2="107.80" y2="1009.00" stroke="#000" stroke-width="3.6" stroke-linecap="butt"/>
<text x="93.20" y="1015.60" font-size="18.3" font-weight="bold" font-style="normal" text-anchor="end">512</text>
<line x1="96.90" y1="984.60" x2="107.80" y2="984.60" stroke="#000" stroke-width="3.6" stroke-linecap="butt"/>
<text x="93.20" y="991.20" font-size="18.3" font-weight="bold" font-style="normal" text-anchor="end">1024</text>
<text x="41.20" y="1106.30" font-size="19.5" font-weight="bold" font-style="normal" text-anchor="middle" transform="rotate(-90 41.20 1106.30)">C-to-T: indel ratio</text>
<line x1="105.90" y1="1228.60" x2="353.10" y2="1228.60" stroke="#000" stroke-width="3.8" stroke-linecap="butt"/>
<line x1="133.70" y1="1228.60" x2="133.70" y2="1239.30" stroke="#000" stroke-width="3.7" stroke-linecap="butt"/>
<text x="138.20" y="1255.20" font-size="18.3" font-weight="bold" font-style="italic" text-anchor="end" transform="rotate(-45 138.20 1255.20)">nos-ancBE4</text>
<line x1="172.32" y1="1228.60" x2="172.32" y2="1239.30" stroke="#000" stroke-width="3.7" stroke-linecap="butt"/>
<text x="176.82" y="1255.20" font-size="18.3" font-weight="bold" font-style="italic" text-anchor="end" transform="rotate(-45 176.82 1255.20)">nos-AID*<tspan font-style="normal" font-weight="normal" font-size="18.3" dx="0.6">Δ</tspan></text>
<line x1="210.94" y1="1228.60" x2="210.94" y2="1239.30" stroke="#000" stroke-width="3.7" stroke-linecap="butt"/>
<text x="215.44" y="1255.20" font-size="18.3" font-weight="bold" font-style="italic" text-anchor="end" transform="rotate(-45 215.44 1255.20)">nos-rAPO-1</text>
<line x1="249.56" y1="1228.60" x2="249.56" y2="1239.30" stroke="#000" stroke-width="3.7" stroke-linecap="butt"/>
<text x="254.06" y="1255.20" font-size="18.3" font-weight="bold" font-style="italic" text-anchor="end" transform="rotate(-45 254.06 1255.20)">act-ancBE4</text>
<line x1="288.18" y1="1228.60" x2="288.18" y2="1239.30" stroke="#000" stroke-width="3.7" stroke-linecap="butt"/>
<text x="292.68" y="1255.20" font-size="18.3" font-weight="bold" font-style="italic" text-anchor="end" transform="rotate(-45 292.68 1255.20)">act-AID*<tspan font-style="normal" font-weight="normal" font-size="18.3" dx="0.6">Δ</tspan></text>
<line x1="326.80" y1="1228.60" x2="326.80" y2="1239.30" stroke="#000" stroke-width="3.7" stroke-linecap="butt"/>
<text x="331.30" y="1255.20" font-size="18.3" font-weight="bold" font-style="italic" text-anchor="end" transform="rotate(-45 331.30 1255.20)">act-rAPO-1</text>
<circle cx="140.90" cy="1086.80" r="5.0" fill="#CD8FCD"/>
<circle cx="133.50" cy="1092.60" r="5.0" fill="#CD8FCD"/>
<circle cx="125.60" cy="1099.30" r="5.0" fill="#CD8FCD"/>
<circle cx="141.40" cy="1098.80" r="5.0" fill="#CD8FCD"/>
<circle cx="164.00" cy="1163.80" r="5.0" fill="#CD8FCD"/>
<circle cx="169.50" cy="1160.80" r="5.0" fill="#CD8FCD"/>
<circle cx="174.40" cy="1162.50" r="5.0" fill="#CD8FCD"/>
<circle cx="179.90" cy="1161.30" r="5.0" fill="#CD8FCD"/>
<circle cx="203.00" cy="1026.00" r="5.0" fill="#CD8FCD"/>
<circle cx="218.60" cy="1025.60" r="5.0" fill="#CD8FCD"/>
<circle cx="203.00" cy="1084.40" r="5.0" fill="#CD8FCD"/>
<circle cx="218.60" cy="1083.60" r="5.0" fill="#CD8FCD"/>
<circle cx="241.40" cy="1152.60" r="5.0" fill="#CD8FCD"/>
<circle cx="256.80" cy="1151.90" r="5.0" fill="#CD8FCD"/>
<circle cx="241.40" cy="1162.50" r="5.0" fill="#CD8FCD"/>
<circle cx="256.80" cy="1162.50" r="5.0" fill="#CD8FCD"/>
<circle cx="279.60" cy="1175.70" r="5.0" fill="#CD8FCD"/>
<circle cx="285.10" cy="1167.50" r="5.0" fill="#CD8FCD"/>
<circle cx="290.30" cy="1172.00" r="5.0" fill="#CD8FCD"/>
<circle cx="295.80" cy="1169.50" r="5.0" fill="#CD8FCD"/>
<circle cx="318.60" cy="1095.00" r="5.0" fill="#CD8FCD"/>
<circle cx="334.20" cy="1093.80" r="5.0" fill="#CD8FCD"/>
<circle cx="318.60" cy="1114.60" r="5.0" fill="#CD8FCD"/>
<circle cx="334.20" cy="1114.10" r="5.0" fill="#CD8FCD"/>
<text font-size="25.1" font-weight="normal"><tspan x="162.05" y="952.60">F0</tspan> <tspan x="199.72" y="952.46" font-family='"DejaVu Sans", sans-serif' font-size="27.49" stroke="#fff" stroke-width="0.96" paint-order="fill stroke">♀</tspan> <tspan x="226.00" y="952.60">/</tspan> <tspan x="241.29" y="952.60">F1</tspan> <tspan x="279.80" y="952.46" font-family='"DejaVu Sans", sans-serif' font-size="27.49" stroke="#fff" stroke-width="0.96" paint-order="fill stroke">♀</tspan></text>
<path d="M403.60 1228.60V1132.60H428.60V1228.60" fill="none" stroke="#4A55A8" stroke-width="2.0"/>
<path d="M442.22 1228.60V1162.40H467.22V1228.60" fill="none" stroke="#4A55A8" stroke-width="2.0"/>
<line x1="454.72" y1="1151.70" x2="454.72" y2="1175.20" stroke="#4A55A8" stroke-width="1.9" stroke-linecap="butt"/>
<line x1="448.22" y1="1151.70" x2="461.22" y2="1151.70" stroke="#4A55A8" stroke-width="1.9" stroke-linecap="butt"/>
<line x1="448.22" y1="1175.20" x2="461.22" y2="1175.20" stroke="#4A55A8" stroke-width="1.9" stroke-linecap="butt"/>
<path d="M480.84 1228.60V1061.90H505.84V1228.60" fill="none" stroke="#4A55A8" stroke-width="2.0"/>
<path d="M519.46 1228.60V1130.10H544.46V1228.60" fill="none" stroke="#4A55A8" stroke-width="2.0"/>
<line x1="531.96" y1="1119.40" x2="531.96" y2="1142.20" stroke="#4A55A8" stroke-width="1.9" stroke-linecap="butt"/>
<line x1="525.46" y1="1119.40" x2="538.46" y2="1119.40" stroke="#4A55A8" stroke-width="1.9" stroke-linecap="butt"/>
<line x1="525.46" y1="1142.20" x2="538.46" y2="1142.20" stroke="#4A55A8" stroke-width="1.9" stroke-linecap="butt"/>
<path d="M558.08 1228.60V1187.50H583.08V1228.60" fill="none" stroke="#4A55A8" stroke-width="2.0"/>
<path d="M596.70 1228.60V1127.90H621.70V1228.60" fill="none" stroke="#4A55A8" stroke-width="2.0"/>
<line x1="609.20" y1="1113.50" x2="609.20" y2="1150.20" stroke="#4A55A8" stroke-width="1.9" stroke-linecap="butt"/>
<line x1="602.70" y1="1113.50" x2="615.70" y2="1113.50" stroke="#4A55A8" stroke-width="1.9" stroke-linecap="butt"/>
<line x1="602.70" y1="1150.20" x2="615.70" y2="1150.20" stroke="#4A55A8" stroke-width="1.9" stroke-linecap="butt"/>
<line x1="390.50" y1="1228.60" x2="635.30" y2="1228.60" stroke="#000" stroke-width="3.8" stroke-linecap="butt"/>
<line x1="415.90" y1="1228.60" x2="415.90" y2="1239.30" stroke="#000" stroke-width="3.7" stroke-linecap="butt"/>
<text x="420.40" y="1255.20" font-size="18.3" font-weight="bold" font-style="italic" text-anchor="end" transform="rotate(-45 420.40 1255.20)">nos-ancBE4</text>
<line x1="454.52" y1="1228.60" x2="454.52" y2="1239.30" stroke="#000" stroke-width="3.7" stroke-linecap="butt"/>
<text x="459.02" y="1255.20" font-size="18.3" font-weight="bold" font-style="italic" text-anchor="end" transform="rotate(-45 459.02 1255.20)">nos-AID*<tspan font-style="normal" font-weight="normal" font-size="18.3" dx="0.6">Δ</tspan></text>
<line x1="493.14" y1="1228.60" x2="493.14" y2="1239.30" stroke="#000" stroke-width="3.7" stroke-linecap="butt"/>
<text x="497.64" y="1255.20" font-size="18.3" font-weight="bold" font-style="italic" text-anchor="end" transform="rotate(-45 497.64 1255.20)">nos-rAPO-1</text>
<line x1="531.76" y1="1228.60" x2="531.76" y2="1239.30" stroke="#000" stroke-width="3.7" stroke-linecap="butt"/>
<text x="536.26" y="1255.20" font-size="18.3" font-weight="bold" font-style="italic" text-anchor="end" transform="rotate(-45 536.26 1255.20)">act-ancBE4</text>
<line x1="570.38" y1="1228.60" x2="570.38" y2="1239.30" stroke="#000" stroke-width="3.7" stroke-linecap="butt"/>
<text x="574.88" y="1255.20" font-size="18.3" font-weight="bold" font-style="italic" text-anchor="end" transform="rotate(-45 574.88 1255.20)">act-AID*<tspan font-style="normal" font-weight="normal" font-size="18.3" dx="0.6">Δ</tspan></text>
<line x1="609.00" y1="1228.60" x2="609.00" y2="1239.30" stroke="#000" stroke-width="3.7" stroke-linecap="butt"/>
<text x="613.50" y="1255.20" font-size="18.3" font-weight="bold" font-style="italic" text-anchor="end" transform="rotate(-45 613.50 1255.20)">act-rAPO-1</text>
<circle cx="413.50" cy="1126.80" r="5.0" fill="#4D62B5"/>
<circle cx="423.90" cy="1127.30" r="5.0" fill="#4D62B5"/>
<circle cx="407.80" cy="1136.80" r="5.0" fill="#4D62B5"/>
<circle cx="418.50" cy="1136.30" r="5.0" fill="#4D62B5"/>
<circle cx="446.30" cy="1153.60" r="5.0" fill="#4D62B5"/>
<circle cx="462.40" cy="1151.20" r="5.0" fill="#4D62B5"/>
<circle cx="446.30" cy="1174.00" r="5.0" fill="#4D62B5"/>
<circle cx="462.40" cy="1172.80" r="5.0" fill="#4D62B5"/>
<circle cx="485.00" cy="1063.60" r="5.0" fill="#4D62B5"/>
<circle cx="490.40" cy="1061.80" r="5.0" fill="#4D62B5"/>
<circle cx="495.90" cy="1062.80" r="5.0" fill="#4D62B5"/>
<circle cx="501.10" cy="1061.80" r="5.0" fill="#4D62B5"/>
<circle cx="523.90" cy="1120.60" r="5.0" fill="#4D62B5"/>
<circle cx="539.60" cy="1119.90" r="5.0" fill="#4D62B5"/>
<circle cx="523.90" cy="1142.20" r="5.0" fill="#4D62B5"/>
<circle cx="539.60" cy="1138.80" r="5.0" fill="#4D62B5"/>
<circle cx="562.10" cy="1188.40" r="5.0" fill="#4D62B5"/>
<circle cx="567.60" cy="1184.20" r="5.0" fill="#4D62B5"/>
<circle cx="573.80" cy="1186.20" r="5.0" fill="#4D62B5"/>
<circle cx="579.00" cy="1185.50" r="5.0" fill="#4D62B5"/>
<circle cx="601.10" cy="1116.00" r="5.0" fill="#4D62B5"/>
<circle cx="616.70" cy="1114.70" r="5.0" fill="#4D62B5"/>
<circle cx="601.10" cy="1146.50" r="5.0" fill="#4D62B5"/>
<circle cx="616.70" cy="1146.50" r="5.0" fill="#4D62B5"/>
<text font-size="25.1" font-weight="normal"><tspan x="443.80" y="952.60">F0</tspan> <tspan x="481.72" y="958.51" font-family='"DejaVu Sans", sans-serif' font-size="27.49" stroke="#fff" stroke-width="0.96" paint-order="fill stroke" rotate="-14.5">♂</tspan> <tspan x="507.75" y="952.60">/</tspan> <tspan x="523.04" y="952.60">F1</tspan> <tspan x="561.55" y="952.46" font-family='"DejaVu Sans", sans-serif' font-size="27.49" stroke="#fff" stroke-width="0.96" paint-order="fill stroke">♀</tspan></text>
</svg>
</body></html>
